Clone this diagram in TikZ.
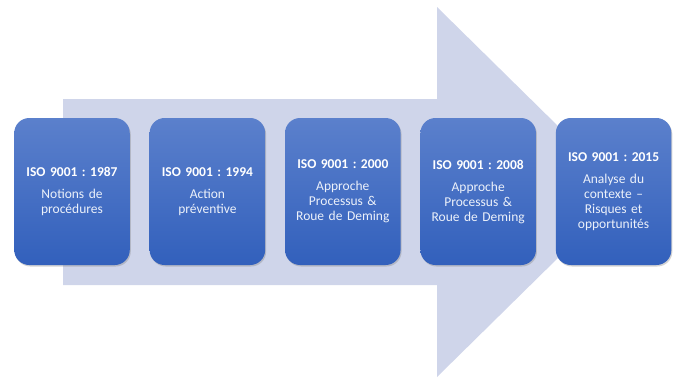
\documentclass[tikz,border=0pt]{standalone}
\usepackage{fontspec}
\setmainfont{Carlito}
\frenchspacing
\usetikzlibrary{positioning,shadows}
\definecolor{isoArrow}{RGB}{207, 213, 234}
\definecolor{isoTop}{RGB}{91, 128, 204}
\definecolor{isoBottom}{RGB}{50, 96, 188}
\definecolor{isoText}{RGB}{236, 241, 250}

\begin{document}
\begin{tikzpicture}[
  x=1pt, y=-1pt,
  stage/.style={
    rounded corners=15pt,
    minimum height=147pt,
    minimum width=115.5pt,
    text width=104pt,
    align=center,
    top color=isoTop,
    bottom color=isoBottom,
    text=isoText,
    drop shadow={opacity=0.35,shadow xshift=1pt,shadow yshift=-1.5pt},
    font=\fontsize{13.5}{15}\selectfont
  }
]
  \useasboundingbox (0,0) rectangle (676,378);

  % big background arrow
  \fill[isoArrow] (63,99) -- (437,99) -- (437,7) -- (625,192)
    -- (437,377) -- (437,285) -- (63,285) -- cycle;

  \node[stage] (v1987) at (72,191.5)
    {\textbf{\color{white}ISO 9001 : 1987}\\[7pt]Notions de\\procédures};
  \node[stage, right=19.5pt of v1987] (v1994)
    {\textbf{\color{white}ISO 9001 : 1994}\\[7pt]Action\\préventive};
  \node[stage, right=19.5pt of v1994] (v2000)
    {\textbf{\color{white}ISO 9001 : 2000}\\[7pt]Approche\\Processus \&\\Roue de Deming};
  \node[stage, right=19.5pt of v2000] (v2008)
    {\textbf{\color{white}ISO 9001 : 2008}\\[7pt]Approche\\Processus \&\\Roue de Deming};
  \node[stage, right=19.5pt of v2008] (v2015)
    {\textbf{\color{white}ISO 9001 : 2015}\\[7pt]Analyse du\\contexte –\\Risques et\\opportunités};
\end{tikzpicture}
\end{document}
